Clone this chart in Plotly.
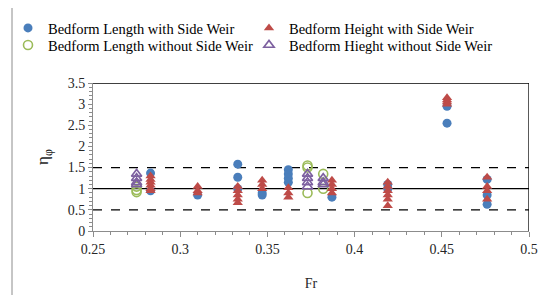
import plotly.graph_objects as go

# ---- data ----
len_sw_x = [0.283, 0.283, 0.310, 0.333, 0.333, 0.333, 0.347, 0.347, 0.362, 0.362, 0.362, 0.362,
            0.387, 0.419, 0.419, 0.453, 0.453, 0.476, 0.476, 0.476]
len_sw_y = [1.37, 0.95, 0.85, 1.58, 1.27, 1.00, 0.90, 0.85, 1.45, 1.35, 1.25, 1.15,
            0.80, 1.10, 1.00, 2.95, 2.55, 1.22, 0.85, 0.63]

hgt_sw_x = [0.283, 0.283, 0.283, 0.283, 0.283, 0.283, 0.310, 0.310, 0.310,
            0.333, 0.333, 0.333, 0.333, 0.333, 0.347, 0.347, 0.347,
            0.362, 0.362, 0.362, 0.387, 0.387, 0.387, 0.387,
            0.419, 0.419, 0.419, 0.419, 0.419, 0.419,
            0.453, 0.453, 0.453, 0.453, 0.476, 0.476, 0.476, 0.476]
hgt_sw_y = [1.30, 1.22, 1.15, 1.08, 1.00, 0.95, 1.05, 0.95, 0.90,
            1.05, 0.95, 0.85, 0.75, 0.67, 1.20, 1.10, 1.00,
            1.02, 0.90, 0.80, 1.20, 1.10, 1.00, 0.90,
            1.15, 1.05, 0.95, 0.85, 0.75, 0.60,
            3.15, 3.10, 3.05, 3.00, 1.27, 1.05, 0.95, 0.75]

len_nsw_x = [0.275, 0.275, 0.275, 0.373, 0.373, 0.373, 0.382, 0.382]
len_nsw_y = [1.05, 0.97, 0.92, 1.55, 1.50, 0.90, 1.35, 1.00]

hgt_nsw_x = [0.275, 0.275, 0.275, 0.275, 0.373, 0.373, 0.373, 0.373, 0.382, 0.382, 0.382]
hgt_nsw_y = [1.35, 1.25, 1.15, 1.10, 1.35, 1.25, 1.15, 1.05, 1.25, 1.15, 1.10]

solid_lines = [1.0]
dashed_lines = [0.5, 1.5]
x_range = [0.25, 0.5]
y_range = [0, 3.5]
x_ticks = [0.25, 0.3, 0.35, 0.4, 0.45, 0.5]
x_labels = ["0.25", "0.3", "0.35", "0.4", "0.45", "0.5"]
y_ticks = [0, 0.5, 1, 1.5, 2, 2.5, 3, 3.5]
y_labels = ["0", "0.5", "1", "1.5", "2", "2.5", "3", "3.5"]

FONT = "Liberation Serif, Times New Roman, serif"
OFF = 8  # page body margin
W, H = 553 - OFF, 295 - OFF
# plot area in screen pixels: x 93..529, y 83..231
L, T = 93 - OFF, 83 - OFF
R, B = W - (529 - OFF), H - (231 - OFF)
pw, ph = W - L - R, H - T - B

def px2x(px):
    return (px - OFF - L) / pw

def py2y(py):
    return (H - B - (py - OFF)) / ph

fig = go.Figure()
fig.add_trace(go.Scatter(x=len_sw_x, y=len_sw_y, mode="markers", name="Bedform Length with Side Weir",
                         marker=dict(symbol="circle", size=9, color="#4A7EBB"), legend="legend"))
fig.add_trace(go.Scatter(x=len_nsw_x, y=len_nsw_y, mode="markers", name="Bedform Length without Side Weir",
                         marker=dict(symbol="circle-open", size=9, color="#9BBB59", line=dict(width=1.6)),
                         legend="legend2"))
fig.add_trace(go.Scatter(x=hgt_sw_x, y=hgt_sw_y, mode="markers", name="Bedform Height with Side Weir",
                         marker=dict(symbol="triangle-up", size=9, color="#BE4B48"), legend="legend3"))
fig.add_trace(go.Scatter(x=hgt_nsw_x, y=hgt_nsw_y, mode="markers", name="Bedform Hieght without Side Weir",
                         marker=dict(symbol="triangle-up-open", size=9, color="#7D60A0", line=dict(width=1.6)),
                         legend="legend4"))

shapes = []
for v in solid_lines:
    shapes.append(dict(type="line", xref="x", yref="y", x0=x_range[0], x1=x_range[1], y0=v, y1=v,
                       line=dict(color="black", width=1.3), layer="below"))
for v in dashed_lines:
    shapes.append(dict(type="line", xref="x", yref="y", x0=x_range[0], x1=x_range[1], y0=v, y1=v,
                       line=dict(color="black", width=1.3, dash="dash"), layer="below"))
# top and right frame lines
shapes.append(dict(type="line", xref="x", yref="y", x0=x_range[0], x1=x_range[1], y0=y_range[1], y1=y_range[1],
                   line=dict(color="black", width=1.3)))
shapes.append(dict(type="line", xref="x", yref="y", x0=x_range[1], x1=x_range[1], y0=y_range[0], y1=y_range[1],
                   line=dict(color="black", width=1.3)))
# outer chart border
shapes.append(dict(type="rect", xref="paper", yref="paper", x0=px2x(12), x1=px2x(570), y0=py2y(310), y1=py2y(7),
                   line=dict(color="#8C8C8C", width=1)))

legend_common = dict(font=dict(family=FONT, size=14.5, color="black"), bgcolor="rgba(0,0,0,0)",
                     tracegroupgap=0, itemwidth=30, xanchor="left", yanchor="top", orientation="v")

TICKC = "#8C8C8C"
fig.update_layout(
    width=W, height=H,
    margin=dict(l=L, r=R, t=T, b=B, autoexpand=False),
    paper_bgcolor="white", plot_bgcolor="white",
    font=dict(family=FONT, size=14, color="#262626"),
    shapes=shapes,
    legend=dict(x=px2x(8), y=py2y(12), **legend_common),
    legend2=dict(x=px2x(8), y=py2y(29), **legend_common),
    legend3=dict(x=px2x(249), y=py2y(12), **legend_common),
    legend4=dict(x=px2x(249), y=py2y(29), **legend_common),
    xaxis=dict(range=x_range, tickvals=x_ticks, ticktext=x_labels,
               showgrid=False, zeroline=False, showline=True, linecolor=TICKC, linewidth=1,
               ticks="outside", ticklen=5, tickcolor=TICKC,
               minor=dict(dtick=0.01, ticks="outside", ticklen=3, tickcolor=TICKC, showgrid=False),
               title=dict(text="Fr", font=dict(family=FONT, size=14, color="#262626"), standoff=22),
               tickfont=dict(family=FONT, size=14, color="#262626")),
    yaxis=dict(range=y_range, tickvals=y_ticks, ticktext=y_labels,
               showgrid=False, zeroline=False, showline=True, linecolor=TICKC, linewidth=1,
               ticks="outside", ticklen=4, tickcolor=TICKC,
               minor=dict(dtick=0.1, ticks="outside", ticklen=3, tickcolor=TICKC, showgrid=False),
               title=dict(text="η<sub>φ</sub>", font=dict(family=FONT, size=17, color="#262626"), standoff=14),
               tickfont=dict(family=FONT, size=14, color="#262626")),
    # companion axes giving the ticks their inner half (ticks cross the axis line)
    xaxis2=dict(range=x_range, overlaying="x", anchor="y", side="bottom", tickvals=x_ticks,
                showticklabels=False, showgrid=False, zeroline=False, showline=False,
                ticks="inside", ticklen=3, tickcolor=TICKC,
                minor=dict(dtick=0.01, ticks="inside", ticklen=3, tickcolor=TICKC, showgrid=False)),
    yaxis2=dict(range=y_range, overlaying="y", anchor="x", side="left", tickvals=y_ticks,
                showticklabels=False, showgrid=False, zeroline=False, showline=False,
                ticks="inside", ticklen=3, tickcolor=TICKC,
                minor=dict(dtick=0.1, ticks="inside", ticklen=3, tickcolor=TICKC, showgrid=False)),
    showlegend=True,
)

fig.write_html("out.html")
